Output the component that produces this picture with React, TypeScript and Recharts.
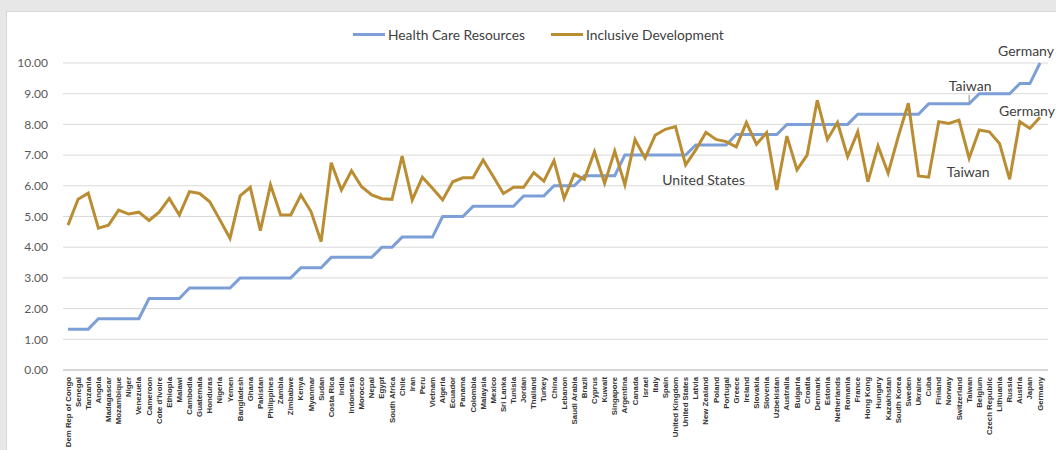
import React from 'react';
import { LineChart, Line, XAxis, YAxis, CartesianGrid, ReferenceDot } from 'recharts';

const categories = [
  'Dem Rep of Congo', 'Senegal', 'Tanzania', 'Angola', 'Madagascar', 'Mozambique', 'Niger', 'Venezuela',
  'Cameroon', "Cote d'Ivoire", 'Ethiopia', 'Malawi', 'Cambodia', 'Guatemala', 'Honduras', 'Nigeria',
  'Yemen', 'Bangladesh', 'Ghana', 'Pakistan', 'Philippines', 'Zambia', 'Zimbabwe', 'Kenya',
  'Myanmar', 'Sudan', 'Costa Rica', 'India', 'Indonesia', 'Morocco', 'Nepal', 'Egypt',
  'South Africa', 'Chile', 'Iran', 'Peru', 'Vietnam', 'Algeria', 'Ecuador', 'Panama',
  'Colombia', 'Malaysia', 'Mexico', 'Sri Lanka', 'Tunisia', 'Jordan', 'Thailand', 'Turkey',
  'China', 'Lebanon', 'Saudi Arabia', 'Brazil', 'Cyprus', 'Kuwait', 'Singapore', 'Argentina',
  'Canada', 'Israel', 'Italy', 'Spain', 'United Kingdom', 'United States', 'Latvia', 'New Zealand',
  'Poland', 'Portugal', 'Greece', 'Ireland', 'Slovakia', 'Slovenia', 'Uzbekistan', 'Australia',
  'Bulgaria', 'Croatia', 'Denmark', 'Estonia', 'Netherlands', 'Romania', 'France', 'Hong Kong',
  'Hungary', 'Kazakhstan', 'South Korea', 'Sweden', 'Ukraine', 'Cuba', 'Finland', 'Norway',
  'Switzerland', 'Taiwan', 'Belgium', 'Czech Republic', 'Lithuania', 'Russia', 'Austria', 'Japan',
  'Germany',
];

const healthCareResources = [
  1.33, 1.33, 1.33, 1.67, 1.67, 1.67, 1.67, 1.67,
  2.33, 2.33, 2.33, 2.33, 2.67, 2.67, 2.67, 2.67,
  2.67, 3.0, 3.0, 3.0, 3.0, 3.0, 3.0, 3.33,
  3.33, 3.33, 3.67, 3.67, 3.67, 3.67, 3.67, 4.0,
  4.0, 4.33, 4.33, 4.33, 4.33, 5.0, 5.0, 5.0,
  5.33, 5.33, 5.33, 5.33, 5.33, 5.67, 5.67, 5.67,
  6.0, 6.0, 6.0, 6.33, 6.33, 6.33, 6.33, 7.0,
  7.0, 7.0, 7.0, 7.0, 7.0, 7.0, 7.33, 7.33,
  7.33, 7.33, 7.67, 7.67, 7.67, 7.67, 7.67, 8.0,
  8.0, 8.0, 8.0, 8.0, 8.0, 8.0, 8.33, 8.33,
  8.33, 8.33, 8.33, 8.33, 8.33, 8.67, 8.67, 8.67,
  8.67, 8.67, 9.0, 9.0, 9.0, 9.0, 9.33, 9.33,
  10.0,
];

const inclusiveDevelopment = [
  4.72, 5.56, 5.76, 4.62, 4.72, 5.21, 5.08, 5.14,
  4.87, 5.14, 5.59, 5.05, 5.81, 5.75, 5.48, 4.89,
  4.29, 5.67, 5.95, 4.54, 6.03, 5.05, 5.05, 5.70,
  5.16, 4.18, 6.75, 5.86, 6.49, 5.97, 5.70, 5.58,
  5.56, 6.97, 5.54, 6.28, 5.92, 5.54, 6.13, 6.26,
  6.26, 6.84, 6.30, 5.75, 5.95, 5.95, 6.43, 6.15,
  6.82, 5.59, 6.38, 6.21, 7.11, 6.08, 7.13, 6.03,
  7.51, 6.90, 7.65, 7.84, 7.93, 6.68, 7.17, 7.74,
  7.51, 7.44, 7.27, 8.06, 7.35, 7.73, 5.86, 7.62,
  6.52, 7.00, 8.79, 7.51, 8.06, 6.95, 7.76, 6.13,
  7.30, 6.41, 7.60, 8.69, 6.32, 6.28, 8.09, 8.03,
  8.14, 6.90, 7.82, 7.76, 7.38, 6.21, 8.09, 7.87,
  8.23,
];

const yTicks = [0, 1, 2, 3, 4, 5, 6, 7, 8, 9, 10];

const seriesNames = ['Health Care Resources', 'Inclusive Development'];
const seriesColors = ['#7c9fd8', '#bb8d33'];

const annotations = [
  { category: 'Germany', series: 0, text: 'Germany', dx: -14, dy: -13, leader: false },
  { category: 'Taiwan', series: 0, text: 'Taiwan', dx: 1, dy: -18, leader: true },
  { category: 'Germany', series: 1, text: 'Germany', dx: -13, dy: -7, leader: false },
  { category: 'Taiwan', series: 1, text: 'Taiwan', dx: -1, dy: 13, leader: false },
  { category: 'United States', series: 1, text: 'United States', dx: 18, dy: 15, leader: false },
];

const seriesValues = [healthCareResources, inclusiveDevelopment];

const data = categories.map((name, i) => ({
  name,
  hcr: healthCareResources[i],
  idv: inclusiveDevelopment[i],
}));

const FONT = 'Lato, "Liberation Sans", sans-serif';

const XTick = (props: any) => {
  const { x, y, payload } = props;
  const ty = y - 1;
  return (
    <text
      x={x}
      y={ty}
      transform={`rotate(-90, ${x}, ${ty})`}
      textAnchor="end"
      dominantBaseline="central"
      fontSize={7.8}
      fontWeight="bold"
      fontFamily='"Liberation Sans", Arial, sans-serif'
      fill="#333333"
    >
      {payload.value}
    </text>
  );
};

const AnnotationLabel = (props: any) => {
  const { viewBox, text, dx, dy, leader } = props;
  if (!viewBox) return null;
  const cx = viewBox.x + (viewBox.width || 0) / 2;
  const cy = viewBox.y + (viewBox.height || 0) / 2;
  return (
    <g>
      {leader ? (
        <line x1={cx} y1={cy - 9} x2={cx} y2={cy - 1} stroke="#8c8c8c" strokeWidth={1} />
      ) : null}
      <text
        x={cx + dx}
        y={cy + dy}
        textAnchor="middle"
        dominantBaseline="central"
        fontSize={14}
        fontFamily={FONT}
        fill="#404040"
      >
        {text}
      </text>
    </g>
  );
};

export default function App() {
  return (
    <div
      style={{
        position: 'absolute',
        left: 0,
        top: 0,
        width: 1056,
        height: 450,
        background: '#e7e7e7',
        overflow: 'hidden',
        fontFamily: FONT,
      }}
    >
      <div
        style={{
          position: 'absolute',
          left: 6,
          top: 11,
          width: 1060,
          height: 450,
          background: '#ffffff',
          border: '1px solid #d6d6d6',
          boxSizing: 'border-box',
        }}
      />
      <div
        style={{
          position: 'absolute',
          top: 26,
          left: 353,
          display: 'flex',
          alignItems: 'center',
          fontSize: 13.8,
          color: '#404040',
          whiteSpace: 'nowrap',
        }}
      >
        {seriesNames.map((n, i) => (
          <div key={n} style={{ display: 'flex', alignItems: 'center', marginRight: i === 0 ? 26 : 0 }}>
            <div style={{ width: 32, height: 3, background: seriesColors[i], marginRight: 3 }} />
            <span>{n}</span>
          </div>
        ))}
      </div>
      <div style={{ position: 'absolute', left: 0, top: 0 }}>
        <LineChart width={1056} height={450} data={data} margin={{ top: 63, right: 8, bottom: 0, left: 0 }}>
          <CartesianGrid horizontal vertical={false} stroke="#d9d9d9" strokeWidth={1} />
          <XAxis
            dataKey="name"
            interval={0}
            height={80}
            padding={{ left: 5, right: 8 }}
            tickLine={false}
            axisLine={{ stroke: '#bfbfbf' }}
            tick={<XTick />}
          />
          <YAxis
            domain={[0, 10]}
            ticks={yTicks}
            width={63}
            axisLine={false}
            tickLine={false}
            tickMargin={9}
            tickFormatter={(v: number) => v.toFixed(2)}
            tick={{ fontSize: 12, fill: '#595959', fontFamily: FONT }}
            interval={0}
          />
          <Line
            type="linear"
            dataKey="hcr"
            name={seriesNames[0]}
            stroke={seriesColors[0]}
            strokeWidth={3}
            dot={false}
            isAnimationActive={false}
          />
          <Line
            type="linear"
            dataKey="idv"
            name={seriesNames[1]}
            stroke={seriesColors[1]}
            strokeWidth={3}
            dot={false}
            isAnimationActive={false}
          />
          {annotations.map((a, i) => (
            <ReferenceDot
              key={i}
              x={a.category}
              y={seriesValues[a.series][categories.indexOf(a.category)]}
              r={0.01}
              fill="none"
              stroke="none"
              ifOverflow="visible"
              label={<AnnotationLabel text={a.text} dx={a.dx} dy={a.dy} leader={a.leader} />}
            />
          ))}
        </LineChart>
      </div>
    </div>
  );
}
